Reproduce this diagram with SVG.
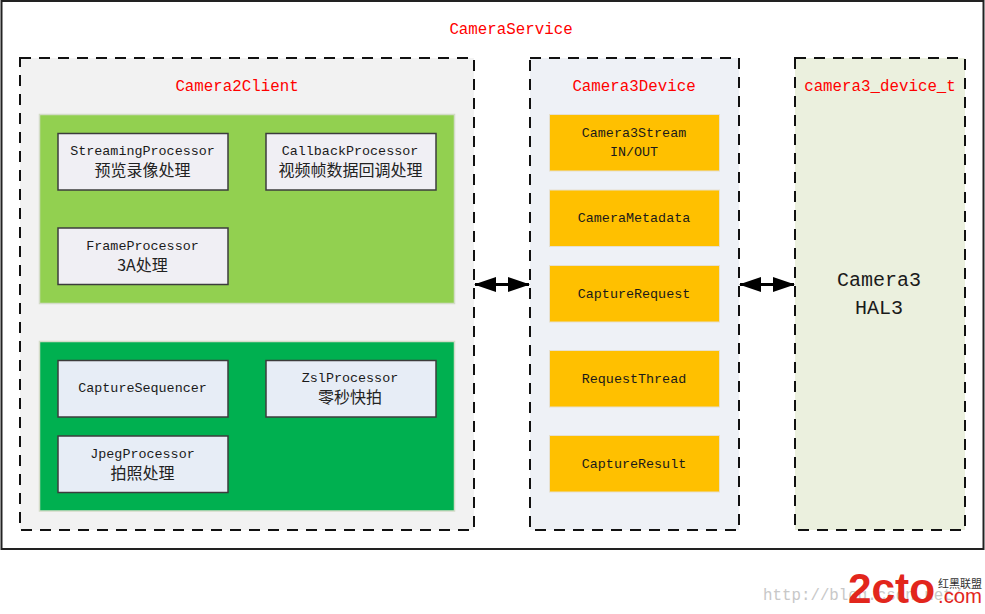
<svg xmlns="http://www.w3.org/2000/svg" width="985" height="614" viewBox="0 0 985 614">
<style>
text{font-family:"Liberation Mono","Noto Sans CJK SC",monospace;text-anchor:middle;fill:#1a1a1a;font-size:13.4px}
.cjk{font-family:"Noto Sans CJK SC","Liberation Mono",sans-serif;font-size:16px;font-weight:400;fill:#222}
.red{fill:#ff0000;font-size:15.8px}
.big{font-size:20px}
.dash{stroke:#111;stroke-width:2;stroke-dasharray:11 8}
.green{stroke:#d3dcc8;stroke-width:1.5}
.box{stroke:#3c3c3c;stroke-width:1.5}
.gray{fill:#f0eff4}
.blue{fill:#e7edf6}
.gold{fill:#ffc000;stroke:#e6e0cf;stroke-width:1}
.link{stroke:#000;stroke-width:3;fill:none;marker-start:url(#head);marker-end:url(#head)}
.logo{font-family:"Liberation Sans",sans-serif;fill:#e2261c;text-anchor:start}
</style>
<defs>
<marker id="head" viewBox="0 0 22 15" refX="21" refY="7.5" markerUnits="userSpaceOnUse" markerWidth="22" markerHeight="15" orient="auto-start-reverse">
<path d="M0 0L22 7.5L0 15z" fill="#000"/>
</marker>
</defs>
<rect width="985" height="614" fill="#fff"/>
<g id="camera-service">
<rect x="1.5" y="1" width="982" height="548" fill="#fff" stroke="#222" stroke-width="2"/>
<text class="red" x="511" y="34">CameraService</text>
</g>
<g id="camera2-client">
<rect class="dash" x="20" y="58" width="454" height="472" fill="#f2f2f2"/>
<text class="red" x="237" y="91">Camera2Client</text>
</g>
<g id="preview-group">
<rect class="green" x="39.500" y="114.500" width="415" height="189" fill="#92d050"/>
</g>
<g id="streaming-processor">
<rect class="box gray" x="58" y="133.500" width="170" height="56.500"/>
<text x="142.500" y="155">StreamingProcessor</text>
<text class="cjk" x="142.500" y="176">预览录像处理</text>
</g>
<g id="callback-processor">
<rect class="box gray" x="266" y="133.500" width="170" height="56.500"/>
<text x="350" y="155">CallbackProcessor</text>
<text class="cjk" x="350.500" y="176">视频帧数据回调处理</text>
</g>
<g id="frame-processor">
<rect class="box gray" x="58" y="228" width="170" height="56.500"/>
<text x="142.500" y="250">FrameProcessor</text>
<text class="cjk" x="142.500" y="271">3A处理</text>
</g>
<g id="capture-group">
<rect class="green" x="39.500" y="341.500" width="415" height="169.500" fill="#00b050"/>
</g>
<g id="capture-sequencer">
<rect class="box blue" x="58" y="360.500" width="170" height="56.500"/>
<text x="142.500" y="392">CaptureSequencer</text>
</g>
<g id="zsl-processor">
<rect class="box blue" x="266" y="360.500" width="170" height="56.500"/>
<text x="350" y="382">ZslProcessor</text>
<text class="cjk" x="350" y="403">零秒快拍</text>
</g>
<g id="jpeg-processor">
<rect class="box blue" x="58" y="436" width="170" height="56.500"/>
<text x="142.500" y="458">JpegProcessor</text>
<text class="cjk" x="142.500" y="479">拍照处理</text>
</g>
<g id="camera3-device">
<rect class="dash" x="530" y="58" width="209" height="472" fill="#eef1f6"/>
<text class="red" x="634" y="91">Camera3Device</text>
</g>
<g id="camera3-stream">
<rect class="gold" x="549.500" y="114.500" width="170" height="56.500"/>
<text x="634" y="137">Camera3Stream</text>
<text x="634" y="156">IN/OUT</text>
</g>
<g id="camera-metadata">
<rect class="gold" x="549.500" y="190" width="170" height="56.500"/>
<text x="634" y="222">CameraMetadata</text>
</g>
<g id="capture-request">
<rect class="gold" x="549.500" y="265.500" width="170" height="56.500"/>
<text x="634" y="298">CaptureRequest</text>
</g>
<g id="request-thread">
<rect class="gold" x="549.500" y="350.500" width="170" height="56.500"/>
<text x="634" y="383">RequestThread</text>
</g>
<g id="capture-result">
<rect class="gold" x="549.500" y="435.500" width="170" height="56.500"/>
<text x="634" y="468">CaptureResult</text>
</g>
<g id="camera3-device-t">
<rect class="dash" x="795" y="58" width="170" height="472" fill="#ebf0de"/>
<text class="red" x="880" y="91">camera3_device_t</text>
<text class="big" x="879" y="286">Camera3</text>
<text class="big" x="879" y="314">HAL3</text>
</g>
<g id="connectors">
<line class="link" x1="475" y1="284.500" x2="529" y2="284.500"/>
<line class="link" x1="740" y1="284.500" x2="794" y2="284.500"/>
</g>
<g id="footer">
<text x="763" y="600" style="fill:#c8c8c8;font-size:15.8px;text-anchor:start">http://blog.csdn.net/</text>
<text class="logo" x="848" y="603" textLength="87" lengthAdjust="spacingAndGlyphs" style="font-weight:700;font-size:42px">2cto</text>
<text class="logo" x="938" y="603" textLength="44" lengthAdjust="spacingAndGlyphs" style="font-size:20px">.com</text>
<text x="960" y="588" style="font-family:'Noto Sans CJK SC',sans-serif;font-size:11px;fill:#333">红黑联盟</text>
</g>
</svg>
